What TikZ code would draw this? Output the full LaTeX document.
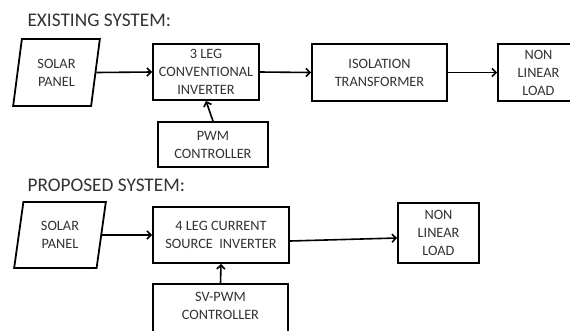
\documentclass[tikz,border=0pt]{standalone}
\usepackage{fontspec}
\setmainfont{Carlito}
\usepackage{tikz}
\usetikzlibrary{arrows.meta,shapes.geometric}

\definecolor{txtgray}{RGB}{50,50,50}

\begin{document}
\begin{tikzpicture}[x=1pt,y=-1pt]
      \useasboundingbox (0,0) rectangle (570,330);
      \clip (0,0) rectangle (570,330);
      \node[anchor=base west,text=txtgray,font=\fontsize{19.3}{21}\selectfont] (title1) at (24,26.5) {EXISTING SYSTEM:};
      \node[anchor=base west,text=txtgray,font=\fontsize{19.3}{21}\selectfont] (title2) at (24,191) {PROPOSED SYSTEM:};
      \begin{scope}[every node/.style={rectangle,draw,line width=1.8pt,inner sep=0pt,align=center,
          text=txtgray,font=\fontsize{14.3}{18}\selectfont}]
        \node[trapezium,trapezium left angle=80,trapezium right angle=100,trapezium stretches=true,
          minimum width=87pt,minimum height=67pt] (panel1) at (56.5,72.5) {SOLAR\\PANEL};
        \node[minimum width=106pt,minimum height=56pt] (inv1) at (206,72) {3 LEG\\CONVENTIONAL\\INVERTER};
        \node[minimum width=110pt,minimum height=45pt] (ctrl1) at (213,144.5) {PWM\\CONTROLLER};
        \node[minimum width=135pt,minimum height=57pt] (trafo) at (379.5,72.5) {ISOLATION\\TRANSFORMER};
        \node[minimum width=81pt,minimum height=57pt] (load1) at (538.5,72.5) {NON\\LINEAR\\LOAD};

        \node[trapezium,trapezium left angle=80,trapezium right angle=100,trapezium stretches=true,
          minimum width=92pt,minimum height=66pt] (panel2) at (60,235) {SOLAR\\PANEL};
        \node[minimum width=136pt,minimum height=56pt] (inv2) at (221,235) {4 LEG CURRENT\\SOURCE\ \ INVERTER};
        \node[minimum width=135pt,minimum height=56pt,text depth=12pt] (ctrl2) at (220.5,312) {SV-PWM\\CONTROLLER};
        \node[minimum width=81pt,minimum height=60pt] (load2) at (438.5,233) {NON\\LINEAR\\LOAD};
      \end{scope}
      \begin{scope}[>={Straight Barb[length=4pt,width=8pt]},
          every edge/.style={draw=black,line width=1.6pt,->}]
        \path (panel1.east) edge (inv1.west);
        \path (ctrl1.north) edge (inv1.south);
        \path (inv1.east) edge (trafo.west);
        \path (trafo.east) edge (load1.west);
        \path (panel2.east) edge (inv2.west);
        \path (ctrl2.north) edge (inv2.south);
        \path ([yshift=-6pt]inv2.east) edge ([yshift=-5pt]load2.west);
      \end{scope}
    \end{tikzpicture}
\end{document}
